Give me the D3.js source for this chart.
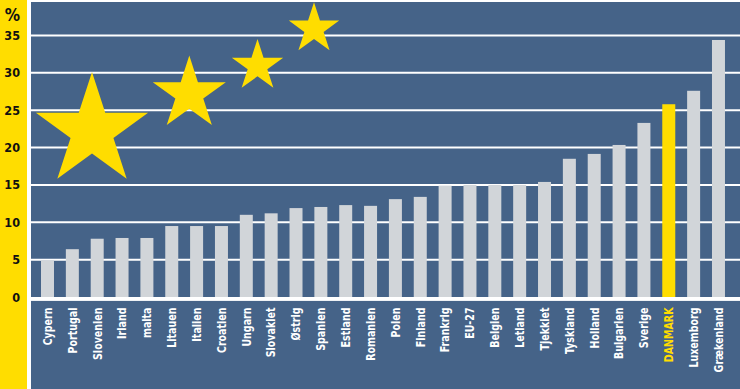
<!DOCTYPE html>
<html><head><meta charset="utf-8">
<script src="https://cdn.jsdelivr.net/npm/d3@7/dist/d3.min.js"></script>
<style>html,body{margin:0;padding:0;background:#fff;}svg{display:block;}</style>
</head><body>
<script>
const countries = ["Cypern","Portugal","Slovenien","Irland","malta","Litauen","Italien","Croatien","Ungarn","Slovakiet","Østrig","Spanien","Estland","Romanien","Polen","Finland","Frankrig","EU-27","Belgien","Letland","Tjekkiet","Tyskland","Holland","Bulgarien","Sverige","DANMARK","Luxemborg","Grækenland"];
const values = [4.9,6.4,7.8,7.9,7.9,9.5,9.5,9.5,11.0,11.2,11.9,12.05,12.3,12.2,13.1,13.4,14.9,15.0,15.0,15.0,15.4,18.5,19.15,20.35,23.3,25.8,27.6,34.4];
const highlight = ["DANMARK"];
const yTicks = [0,5,10,15,20,25,30,35];
const yUnit = "%";
// decorative stars: [cx, cy, outer radius]
const stars = [[92,131,59],[189.3,94,38.4],[257.5,66,27],[314,28.8,26.5]];

const W = 740, H = 389;
const BLUE = "#456388", BAR = "#d1d5d9", YEL = "#ffdd00";
const FONT = "'DejaVu Sans Condensed','DejaVu Sans',sans-serif";

const svg = d3.select("body").append("svg").attr("width", W).attr("height", H);

// backgrounds
svg.append("rect").attr("x",0).attr("y",0).attr("width",27).attr("height",H).attr("fill",YEL);
svg.append("rect").attr("x",31).attr("y",2).attr("width",W-31).attr("height",295).attr("fill",BLUE);
svg.append("rect").attr("x",31).attr("y",300.7).attr("width",W-31).attr("height",H-300.7).attr("fill",BLUE);

const x = d3.scaleBand().domain(countries).range([35.07, 730.9]).paddingInner(0.477).paddingOuter(0.2385);
const y = d3.scaleLinear().domain([0,35]).range([297, 35.5]);

// gridlines
svg.append("g").selectAll("line").data(yTicks.filter(d=>d>0)).join("line")
  .attr("x1",31).attr("x2",W).attr("y1",d=>y(d)).attr("y2",d=>y(d))
  .attr("stroke","#fff").attr("stroke-width",2);

// stars
function starPath(cx, cy, R){
  const r = R*0.382, pts=[];
  for(let i=0;i<10;i++){
    const a = -Math.PI/2 + i*Math.PI/5;
    const rr = i%2===0 ? R : r;
    pts.push([cx+rr*Math.cos(a), cy+rr*Math.sin(a)]);
  }
  return "M"+pts.map(p=>p.join(",")).join("L")+"Z";
}
svg.append("g").selectAll("path").data(stars).join("path")
  .attr("d",d=>starPath(d[0],d[1],d[2])).attr("fill",YEL);

// bars
svg.append("g").selectAll("rect").data(countries).join("rect")
  .attr("x",d=>x(d)).attr("width",x.bandwidth())
  .attr("y",(d,i)=>y(values[i])).attr("height",(d,i)=>y(0)-y(values[i]))
  .attr("fill",d=>highlight.includes(d)?YEL:BAR);

// zero axis band
svg.append("rect").attr("x",31).attr("y",297).attr("width",W-31).attr("height",3.7).attr("fill","#fff");

// y axis labels
const yAxis = d3.axisLeft(y).tickValues(yTicks).tickSize(0).tickPadding(0);
const ya = svg.append("g").attr("transform","translate(20,0)").call(yAxis);
ya.select(".domain").remove();
ya.selectAll("text").attr("font-family",FONT).attr("font-weight","bold").attr("font-size",12.5).attr("fill","#111");
svg.append("text").attr("x",20).attr("y",21).attr("text-anchor","end")
  .attr("font-family",FONT).attr("font-weight","bold").attr("font-size",17).attr("fill","#111").text(yUnit);

// x labels
const xAxis = d3.axisBottom(x).tickSize(0).tickPadding(0);
const xa = svg.append("g").attr("transform","translate(0,307.5)").call(xAxis);
xa.select(".domain").remove();
xa.selectAll("text")
  .attr("transform","rotate(-90) scale(0.88,1)").attr("text-anchor","end")
  .attr("x",0).attr("y",0).attr("dy","0.36em")
  .attr("font-family",FONT).attr("font-weight","bold").attr("font-size",12)
  .attr("fill",d=>highlight.includes(d)?YEL:"#fff");
</script>
</body></html>
